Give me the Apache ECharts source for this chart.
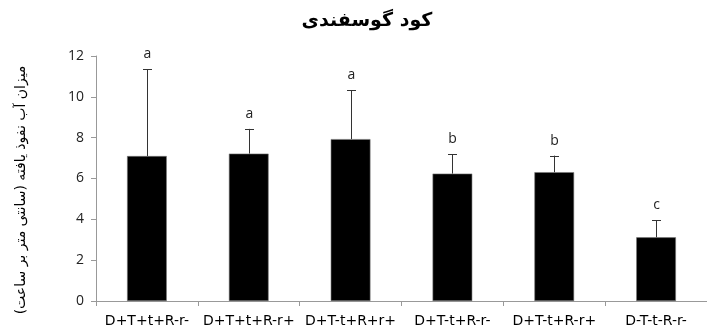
<!DOCTYPE html>
<html>
<head>
<meta charset="utf-8">
<script src="https://cdn.jsdelivr.net/npm/echarts@6/dist/echarts.min.js"></script>
<style>
  html, body { margin: 0; padding: 0; background: #fff; }
  #chart { width: 707px; height: 333px; }
</style>
</head>
<body>
<div id="chart"></div>
<script>
// Treatments on the x axis
const categories = ['D+T+t+R-r-', 'D+T+t+R-r+', 'D+T-t+R+r+', 'D+T-t+R-r-', 'D+T-t+R-r+', 'D-T-t-R-r-'];
// Mean infiltration rate (cm/h)
const means = [7.1, 7.22, 7.93, 6.24, 6.31, 3.12];
// Upper error (added to mean)
const errors = [4.26, 1.21, 2.40, 0.96, 0.81, 0.84];
// Significance letters
const letters = ['a', 'a', 'a', 'b', 'b', 'c'];
// Y axis ticks
const yTicks = [0, 2, 4, 6, 8, 10, 12];

const errData = categories.map((c, i) => [i, means[i], errors[i], letters[i]]);

const chart = echarts.init(document.getElementById('chart'), null, { renderer: 'canvas' });
chart.setOption({
  animation: false,
  title: {
    text: 'کود گوسفندی',
    left: 362, top: 7, textAlign: 'center',
    textStyle: { fontFamily: 'DejaVu Sans', fontSize: 19, fontWeight: 'bold', color: '#000' }
  },
  graphic: [{
    type: 'text',
    x: 21, y: 190,
    rotation: Math.PI / 2,
    style: {
      text: 'میزان آب نفوذ یافته (سانتی متر بر ساعت)',
      textAlign: 'center', textVerticalAlign: 'middle',
      fontFamily: 'DejaVu Sans', fontSize: 14, fill: '#000'
    }
  }],
  grid: { left: 96, right: -7, top: 56, bottom: 32 },
  xAxis: {
    type: 'category',
    data: categories,
    axisLine: { lineStyle: { color: '#999', width: 1 } },
    axisTick: { show: true, alignWithLabel: false, length: 5, lineStyle: { color: '#999' } },
    axisLabel: { color: '#000', fontFamily: 'DejaVu Sans', fontSize: 14, margin: 13, interval: 0 }
  },
  yAxis: {
    type: 'value',
    min: yTicks[0], max: yTicks[yTicks.length - 1], interval: 2,
    axisLine: { show: true, lineStyle: { color: '#999', width: 1 } },
    axisTick: { show: true, length: 5, lineStyle: { color: '#999' } },
    splitLine: { show: false },
    axisLabel: { color: '#222', fontFamily: 'Open Sans', fontSize: 14, margin: 12 }
  },
  series: [
    {
      type: 'bar',
      data: means,
      barWidth: '39%',
      itemStyle: { color: '#000', borderColor: '#777', borderWidth: 0.6 }
    },
    {
      type: 'custom',
      data: errData,
      z: 5,
      renderItem: function (params, api) {
        const i = api.value(0);
        const m = api.value(1);
        const e = api.value(2);
        const base = api.coord([i, m]);
        const top = api.coord([i, m + e]);
        const x = Math.round(base[0]) + 0.5;
        const cap = 4.5;
        return {
          type: 'group',
          children: [
            { type: 'line', shape: { x1: x, y1: base[1], x2: x, y2: top[1] }, style: { stroke: '#333', lineWidth: 1 } },
            { type: 'line', shape: { x1: x - cap, y1: Math.round(top[1]) + 0.5, x2: x + cap, y2: Math.round(top[1]) + 0.5 }, style: { stroke: '#333', lineWidth: 1 } },
            { type: 'text', style: { text: api.value(3), x: x, y: top[1] - 8, textAlign: 'center', textVerticalAlign: 'bottom', fontFamily: 'Open Sans', fontSize: 14, fill: '#222' } }
          ]
        };
      }
    }
  ]
});
</script>
</body>
</html>
